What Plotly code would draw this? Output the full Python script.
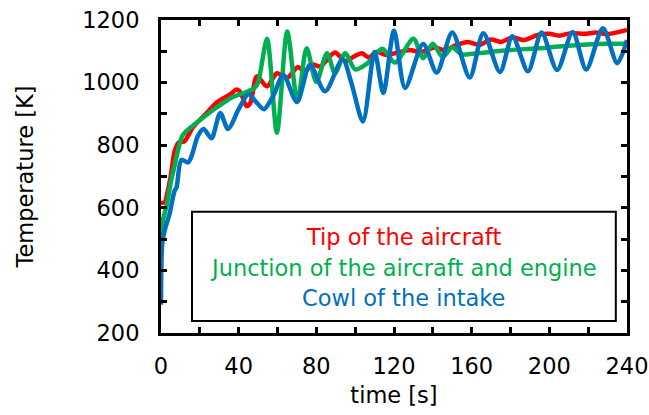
import plotly.graph_objects as go

# ---- data ----
tip_t = [0, 2, 3, 5, 7, 9, 12, 16.5, 22.5, 29, 35.5, 39, 41, 44, 46, 49.4, 54.6, 59.7, 65, 70.5, 74, 78, 82,
         89.6, 94.8, 99, 103.5, 107, 111, 116, 122, 128, 134, 141, 146, 152, 158, 164, 170, 175, 181, 187,
         194, 200, 205, 211, 218, 224, 230, 236, 240]
tip_T = [615, 618, 640, 700, 780, 808, 812, 858, 896, 938, 962, 978, 968, 925, 935, 1020, 988, 1030, 1015, 1050, 1035, 1058, 1052,
         1096, 1068, 1082, 1094, 1080, 1098, 1088, 1096, 1104, 1098, 1112, 1104, 1120, 1130, 1120, 1138, 1130, 1144, 1136,
         1152, 1156, 1150, 1158, 1156, 1160, 1155, 1162, 1168]

junc_t = [0, 1, 3, 5, 7, 9, 11, 14, 20, 29, 37, 44, 48, 50, 54.6, 59.7, 65, 70.3, 75, 80, 85.5, 89.6, 94.8, 100,
          106, 114, 120.5, 130, 135, 140, 145, 150, 155, 160, 170, 180, 190, 200, 210, 220, 230, 240]
junc_T = [500, 560, 610, 680, 735, 790, 830, 850, 880, 922, 954, 970, 982, 1000, 1140, 840, 1163, 940, 1110, 1002, 1094, 1030, 1094, 1042,
          1060, 1108, 1064, 1140, 1078, 1124, 1082, 1112, 1090, 1092, 1098, 1104, 1108, 1112, 1118, 1122, 1124, 1124]

cowl_t = [0, 0.7, 2, 4.5, 7, 8, 10.5, 14, 16, 19, 22, 26, 30.5, 34.5, 40, 45, 49, 53, 58, 63, 70, 76.7, 84.5,
          93.5, 98, 104, 110, 114.5, 120, 125.7, 135, 142, 150, 159, 166, 174.6, 181, 189, 196, 204, 212, 219,
          227.6, 235, 240]
cowl_T = [290, 490, 530, 583, 655, 665, 753, 745, 770, 830, 852, 822, 903, 852, 915, 963, 938, 915, 960, 1024, 938, 1056, 972,
          1075, 1000, 876, 1098, 967, 1166, 983, 1123, 1032, 1160, 1016, 1158, 1034, 1148, 1036, 1160, 1040, 1162, 1042,
          1174, 1062, 1136]

series_names = ["Tip of the aircraft", "Junction of the aircraft and engine", "Cowl of the intake"]
series_colors = ["#FF0000", "#00B050", "#0070C0"]

x_ticks = list(range(0, 241, 20))
x_labels = [str(v) if v % 40 == 0 else "" for v in x_ticks]
y_ticks = list(range(200, 1201, 100))
y_labels = [str(v) if v % 200 == 0 else "" for v in y_ticks]

FONT = "DejaVu Sans"
FS = 22.5

fig = go.Figure()
for (t, T), name, color in zip([(tip_t, tip_T), (junc_t, junc_T), (cowl_t, cowl_T)], series_names, series_colors):
    fig.add_trace(go.Scatter(x=t, y=T, mode="lines", name=name,
                             line=dict(color=color, width=4.5, shape="spline", smoothing=0.8)))

axis_common = dict(showline=True, linecolor="black", linewidth=3, mirror="ticks",
                   ticks="inside", ticklen=6, tickwidth=2.5, tickcolor="black",
                   showgrid=False, zeroline=False, automargin=False,
                   tickfont=dict(family=FONT, size=FS, color="black"))

fig.update_xaxes(range=[0, 240], tickmode="array", tickvals=x_ticks, ticktext=x_labels,
                 title=dict(text="time [s]", font=dict(family=FONT, size=FS, color="black"), standoff=10),
                 ticklabelstandoff=11, **axis_common)
fig.update_yaxes(range=[200, 1200], tickmode="array", tickvals=y_ticks, ticktext=y_labels,
                 title=dict(text="Temperature [K]", font=dict(family=FONT, size=FS, color="black"), standoff=43),
                 ticklabelstandoff=14, **axis_common)

# legend box
fig.add_shape(type="rect", xref="paper", yref="paper", x0=0.0665, x1=0.976, y0=0.038, y1=0.387,
              line=dict(color="black", width=2), fillcolor="white", layer="above")
for name, color, yp in zip(series_names, series_colors, [0.3067, 0.2077, 0.1118]):
    fig.add_annotation(x=0.5196, y=yp, xref="paper", yref="paper", text=name, showarrow=False,
                       font=dict(family=FONT, size=FS, color=color), xanchor="center", yanchor="middle")

fig.update_layout(width=649, height=415, margin=dict(l=161, r=22, t=20, b=82),
                  paper_bgcolor="white", plot_bgcolor="white", showlegend=False,
                  font=dict(family=FONT, color="black"))

fig.write_html("out.html")
